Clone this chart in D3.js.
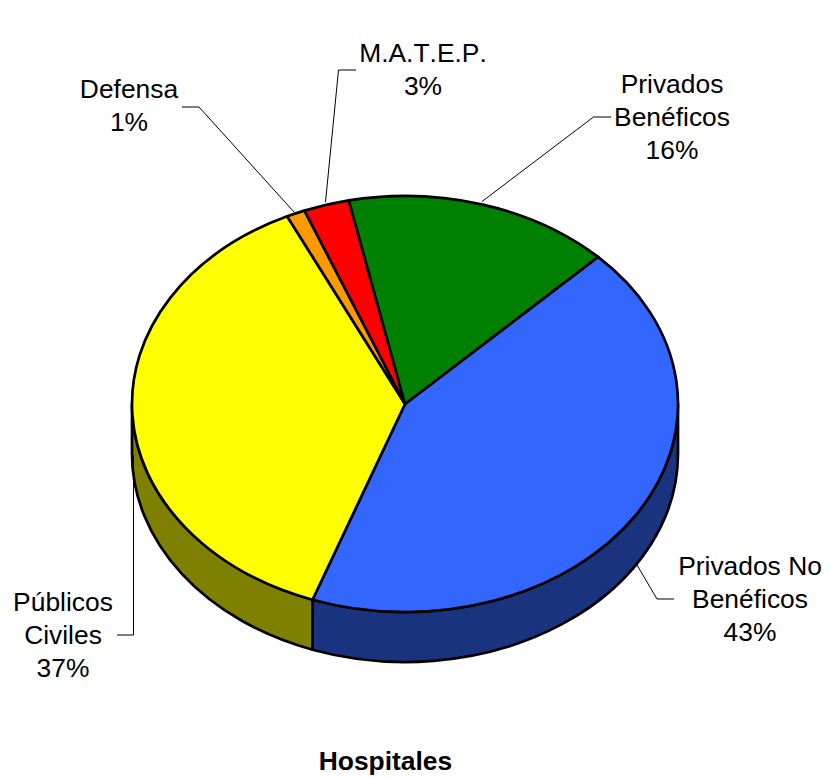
<!DOCTYPE html>
<html>
<head>
<meta charset="utf-8">
<script src="https://cdn.jsdelivr.net/npm/d3@7"></script>
<style>
  html, body { margin: 0; padding: 0; background: #fff; }
  svg { display: block; }
  text { font-family: "Liberation Sans", Arial, sans-serif; font-size: 26.4px; font-kerning: none; fill: #000; }
</style>
</head>
<body>
<div id="vis-holder"></div>
<script>
// Chart data, clockwise from the blue slice
const categories = [["Privados No", "Benéficos"], ["Públicos", "Civiles"], ["Defensa"], ["M.A.T.E.P."], ["Privados", "Benéficos"]];
const values = [43, 37.4, 1.1, 2.7, 15.8];
const topColors = ["#3366FF", "#FFFF00", "#FF9900", "#FF0000", "#008000"];
const sideColors = ["#1A337F", "#808000", "#7F4C00", "#7F0000", "#004000"];
const chartTitle = "Hospitales";

// Layout
const width = 829, height = 777;
const cx = 405, cy = 404, rx = 273, ry = 208, depth = 50;

// Label anchor (text centre, first baseline) and leader line for each slice
const labelPos = [[750, 575], [63, 611], [129, 98], [423, 62], [672, 93]];
const leaders = [
  [[637, 565], [657, 599], [674, 599]],
  [[133.5, 455], [133.5, 635], [117, 635]],
  [[294, 212], [199, 107], [182, 107]],
  [[325.5, 202], [338.5, 70], [356, 70]],
  [[482, 201.5], [593.5, 117], [611, 117]]
];

const svg = d3.select("#vis-holder")
  .append("svg")
  .attr("width", width)
  .attr("height", height);

const pie = d3.pie()
  .sort(null)
  .startAngle(Math.PI / 4)
  .endAngle(Math.PI / 4 + 2 * Math.PI);

const slices = pie(values);

// Angle to point on the tilted disc (0 = top, clockwise)
const px = (a) => cx + rx * Math.sin(a);
const py = (a, dy) => cy - ry * Math.cos(a) + dy;

// Side wall: only the part of a slice facing the viewer (90deg to 270deg)
function sidePath(d) {
  const a0 = Math.max(d.startAngle, Math.PI / 2);
  const a1 = Math.min(d.endAngle, 3 * Math.PI / 2);
  if (a1 <= a0) return null;
  const sweep = (a1 - a0) > Math.PI ? 1 : 0;
  return `M${px(a0)},${py(a0, 0)}`
    + `A${rx},${ry} 0 ${sweep} 1 ${px(a1)},${py(a1, 0)}`
    + `L${px(a1)},${py(a1, depth)}`
    + `A${rx},${ry} 0 ${sweep} 0 ${px(a0)},${py(a0, depth)}Z`;
}

svg.append("g").selectAll("path")
  .data(slices.filter((d) => sidePath(d) !== null))
  .enter()
  .append("path")
  .attr("d", sidePath)
  .attr("fill", (d) => sideColors[d.index])
  .attr("stroke", "#000")
  .attr("stroke-width", 2.7)
  .attr("stroke-linejoin", "round");

// Top face: circular arcs squashed into an ellipse
const arc = d3.arc().innerRadius(0).outerRadius(rx);

svg.append("g")
  .attr("transform", `translate(${cx},${cy}) scale(1,${ry / rx})`)
  .selectAll("path")
  .data(slices)
  .enter()
  .append("path")
  .attr("d", arc)
  .attr("fill", (d) => topColors[d.index])
  .attr("stroke", "#000")
  .attr("stroke-width", 2.7)
  .attr("stroke-linejoin", "round")
  .attr("vector-effect", "non-scaling-stroke");

// Leader lines
svg.append("g").selectAll("path")
  .data(leaders)
  .enter()
  .append("path")
  .attr("d", d3.line())
  .attr("fill", "none")
  .attr("stroke", "#000")
  .attr("stroke-width", 1);

// Labels
const lineGap = 33;
const labels = svg.append("g").selectAll("text")
  .data(slices)
  .enter()
  .append("text")
  .attr("text-anchor", "middle");

labels.selectAll("tspan")
  .data((d) => categories[d.index].concat(`${Math.round(d.value)}%`)
    .map((t, i) => ({ t, i, pos: labelPos[d.index] })))
  .enter()
  .append("tspan")
  .attr("x", (d) => d.pos[0])
  .attr("y", (d) => d.pos[1] + d.i * lineGap)
  .text((d) => d.t);

// Title
svg.append("text")
  .attr("x", 385.5)
  .attr("y", 770)
  .attr("text-anchor", "middle")
  .style("font-weight", "bold")
  .text(chartTitle);
</script>
</body>
</html>
